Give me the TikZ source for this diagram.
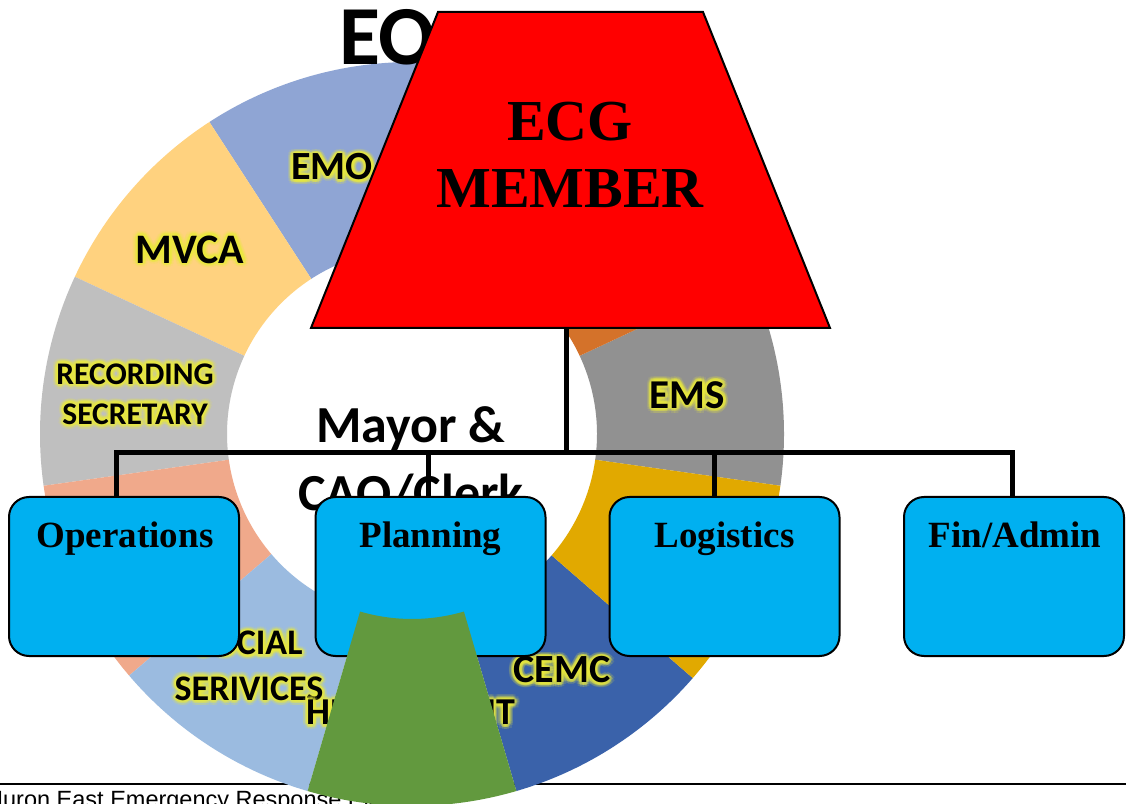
\documentclass[tikz,border=0pt]{standalone}
\usepackage{fontspec}
\setmainfont{Liberation Serif}
\setsansfont{Carlito}
\newfontfamily\footfont{Liberation Sans}
\usetikzlibrary{calc}
\definecolor{cEMO}{RGB}{143,165,212}
\definecolor{cMVCA}{RGB}{255,210,127}
\definecolor{cREC}{RGB}{191,191,191}
\definecolor{cSAL}{RGB}{240,169,139}
\definecolor{cSOC}{RGB}{155,187,224}
\definecolor{cHEA}{RGB}{98,153,62}
\definecolor{cCEMC}{RGB}{58,98,170}
\definecolor{cGOLD}{RGB}{225,169,0}
\definecolor{cEMS}{RGB}{145,145,145}
\definecolor{cORG}{RGB}{212,114,42}
\definecolor{boxblue}{RGB}{0,176,240}
\definecolor{glowy}{RGB}{235,235,60}
\tikzset{
  lbl/.style={inner sep=0pt, align=center, text=black},
  glowc/.style={inner sep=0pt, align=center, text=glowy, opacity=0.33},
  orgbox/.style={draw=black, line width=2pt, fill=boxblue, rounded corners=20pt,
    minimum width=230pt, minimum height=159pt, inner sep=0pt},
  boxtxt/.style={font=\bfseries\fontsize{37}{44}\selectfont, inner sep=0pt, anchor=base},
  conn/.style={line width=5pt, draw=black},
  ecgshape/.style={fill=red, draw=black, line width=2pt, line join=miter},
}
\newcommand\seg[3]{\fill[#1] ($(C)+(#2:372pt)$) arc[start angle=#2, end angle=#3, radius=372pt]
  -- ($(C)+(#3:185pt)$) arc[start angle=#3, end angle=#2, radius=185pt] -- cycle;}
\newcommand\glowlabel[4]{%
  \foreach \ga in {15,45,...,345}{\node[glowc, opacity=0.15, font=#3] at ($#2+(\ga:5pt)$) {#4};}
  \foreach \ga in {0,30,...,330}{\node[glowc, font=#3] at ($#2+(\ga:2.8pt)$) {#4};}
  \node[lbl, font=#3] (#1) at #2 {#4};}
\begin{document}
\begin{tikzpicture}[x=1pt,y=1pt]
\useasboundingbox (0,0) rectangle (1126,803);
\fill[white] (0,0) rectangle (1126,803);
% footer
\coordinate (fl) at (0,19);
\coordinate (fr) at (1126,19);
\draw[line width=2.7pt] (fl) -- (fr);
\node[anchor=base west, inner sep=0pt, font=\footfont\fontsize{23.5}{28}\selectfont] (foot) at (-14,-4) {Huron East Emergency Response Plan};
% donut
\coordinate (C) at (412,369);
\seg{cEMS}{-8}{25}
\seg{cORG}{25}{60}
\seg{cEMO}{60}{123}
\seg{cMVCA}{123}{155}
\seg{cREC}{155}{188}
\seg{cSAL}{188}{220.5}
\seg{cSOC}{220.5}{253.7}
\seg{cCEMC}{286.3}{319}
\seg{cGOLD}{319}{352}
% segment labels
\glowlabel{lEMO}{(332,636)}{\sffamily\bfseries\fontsize{40}{48}\selectfont}{EMO}
\glowlabel{lMVCA}{(190,553.5)}{\sffamily\bfseries\fontsize{42}{50}\selectfont}{MVCA}
\glowlabel{lREC}{(135,409)}{\sffamily\bfseries\fontsize{31.5}{40}\selectfont}{RECORDING\\SECRETARY}
\glowlabel{lEMS}{(687.5,408)}{\sffamily\bfseries\fontsize{41}{48}\selectfont}{EMS}
\glowlabel{lSOC}{(249,137)}{\sffamily\bfseries\fontsize{36}{45.5}\selectfont}{SOCIAL\\SERIVICES}
\glowlabel{lCEMC}{(562,133)}{\sffamily\bfseries\fontsize{40}{48}\selectfont}{CEMC}
\glowlabel{lHEA}{(411,90.5)}{\sffamily\bfseries\fontsize{38}{46}\selectfont}{HEALTH UNIT}
% title and centre text
\node[anchor=base west, inner sep=0pt, font=\sffamily\bfseries\fontsize{84}{90}\selectfont] (title) at (339,738) {EO};
\node[lbl, font=\sffamily\bfseries\fontsize{52}{68}\selectfont] (mayor) at (411,343) {Mayor \&\\CAO/Clerk};
% ECG member
\draw[ecgshape] (311,475) -- (438,791) -- (703,791) -- (830,475) -- cycle;
\coordinate (ecgb) at (566,475);
\node[inner sep=0pt, align=center, font=\bfseries\fontsize{58}{67}\selectfont] (ecg) at (570,648.5) {ECG\\MEMBER};
% boxes
\node[orgbox] (ops) at (124,226.5) {};
\node[orgbox] (plan) at (430.5,226.5) {};
\node[orgbox] (logi) at (724.5,226.5) {};
\node[orgbox, minimum width=220pt] (fin) at (1014,226.5) {};
\node[boxtxt] (topsl) at ($(ops.north)+(1,-52)$) {Operations};
\node[boxtxt] (tplan) at ($(plan.north)+(0,-52)$) {Planning};
\node[boxtxt] (tlogi) at ($(logi.north)+(0,-52)$) {Logistics};
\node[boxtxt] (tfin) at ($(fin.north)+(1,-52)$) {Fin/Admin};
% connectors
\coordinate (bus) at (0,350);
\draw[conn] (ecgb) -- (ecgb |- bus);
\draw[conn] ([xshift=-8pt]ops.north) |- ([xshift=-2pt]fin.north |- bus) -- ([xshift=-2pt]fin.north);
\draw[conn] ([xshift=-2pt]plan.north) -- ([xshift=-2pt]plan.north |- bus);
\draw[conn] ([xshift=-10pt]logi.north) -- ([xshift=-10pt]logi.north |- bus);
% green segment on top
\seg{cHEA}{253.7}{286.3}
\end{tikzpicture}
\end{document}
